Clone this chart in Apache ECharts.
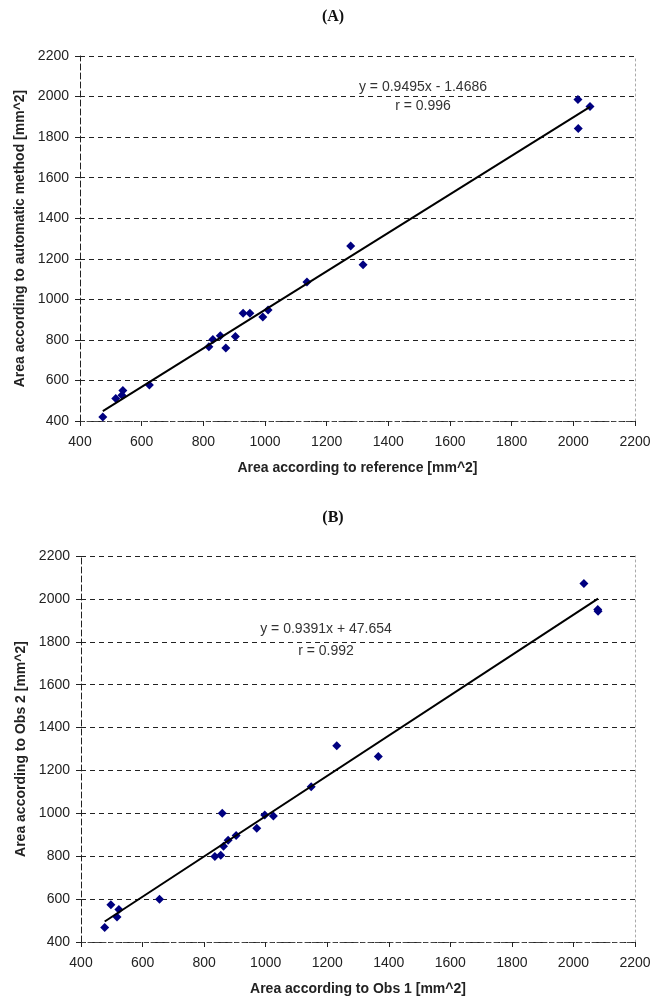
<!DOCTYPE html>
<html>
<head>
<meta charset="utf-8">
<script src="https://cdn.jsdelivr.net/npm/echarts@6/dist/echarts.min.js"></script>
<style>
  html, body { margin: 0; padding: 0; background: #fff; }
  #chart { width: 665px; height: 1000px; }
</style>
</head>
<body>
<div id="chart"></div>
<script>
// (A) reference vs automatic method
const refA = [474, 516, 536, 539, 625, 818, 831, 855, 873, 904, 929, 951, 993, 1010, 1136, 1278, 1318, 2015, 2016, 2054]
const autoA = [420, 511, 527, 550, 578, 766, 802, 820, 760, 817, 931, 931, 913, 947, 1086, 1263, 1171, 1985, 1843, 1951]
const fitA = [0.9495, -1.4686]

// (B) obs 1 vs obs 2
const obs1B = [477, 497, 517, 523, 655, 835, 854, 859, 863, 878, 904, 971, 997, 1025, 1148, 1231, 1366, 2034, 2079, 2080]
const obs2B = [468, 574, 517, 552, 599, 799, 804, 1000, 846, 874, 897, 930, 992, 987, 1124, 1315, 1265, 2072, 1950, 1942]
const fitB = [0.9391, 47.654]

const axisTicks = [400, 600, 800, 1000, 1200, 1400, 1600, 1800, 2000, 2200]

const pts = (xs, ys) => xs.map((x, i) => [x, ys[i]])
const fitLine = (xs, fit) => {
  const lo = Math.min(...xs)
  const hi = Math.max(...xs)
  return [[lo, fit[0] * lo + fit[1]], [hi, fit[0] * hi + fit[1]]]
}

const labelFont = { fontFamily: 'Liberation Sans', fontSize: 14, color: '#222' }
const nameFont = { fontFamily: 'Liberation Sans', fontSize: 14, fontWeight: 'bold', color: '#222' }
const plain = (v) => String(v)

const makeX = (idx, name) => ({
  type: 'value', gridIndex: idx,
  min: axisTicks[0], max: axisTicks[axisTicks.length - 1], interval: 200,
  name, nameLocation: 'middle', nameGap: 40, nameTextStyle: nameFont,
  axisLine: { lineStyle: { color: '#444', type: [4, 3], width: 1 } },
  axisTick: { show: true, length: 5, lineStyle: { color: '#222' } },
  axisLabel: { ...labelFont, margin: 14, formatter: plain },
  splitLine: { show: false }
})
const makeY = (idx, name) => ({
  type: 'value', gridIndex: idx,
  min: axisTicks[0], max: axisTicks[axisTicks.length - 1], interval: 200,
  name, nameLocation: 'middle', nameGap: 51, nameTextStyle: nameFont,
  axisLine: { show: true, lineStyle: { color: '#222', type: [6, 3], width: 1 } },
  axisTick: { show: true, length: 5, lineStyle: { color: '#222' } },
  axisLabel: { ...labelFont, margin: 11, formatter: plain },
  splitLine: { show: true, lineStyle: { color: '#222', type: [5, 4], width: 1 } }
})
const makeRight = (idx) => ({
  type: 'value', gridIndex: idx, position: 'right',
  min: axisTicks[0], max: axisTicks[axisTicks.length - 1], interval: 200,
  axisLine: { show: true, lineStyle: { color: '#aaa', type: [2, 3], width: 1 } },
  axisTick: { show: false }, axisLabel: { show: false }, splitLine: { show: false }
})

const scatter = (idx, data) => ({
  type: 'scatter', xAxisIndex: idx, yAxisIndex: idx * 2, data,
  symbol: 'diamond', symbolSize: 9,
  itemStyle: { color: '#000080', opacity: 1 }, z: 3
})
const trend = (idx, data) => ({
  type: 'line', xAxisIndex: idx, yAxisIndex: idx * 2, data,
  symbol: 'none', lineStyle: { color: '#000', width: 2 }, z: 4
})

const eqText = (x, y, text) => ({
  type: 'text', x, y,
  style: { text, fontFamily: 'Liberation Sans', fontSize: 14, fill: '#333', align: 'center', verticalAlign: 'middle' }
})
const title = (y, text) => ({
  type: 'text', x: 333, y,
  style: { text, fontFamily: 'Liberation Serif', fontSize: 16, fontWeight: 'bold', fill: '#111', align: 'center', verticalAlign: 'middle' }
})

const chart = echarts.init(document.getElementById('chart'))
chart.setOption({
  animation: false,
  backgroundColor: '#fff',
  grid: [
    { left: 80, right: 30, top: 56, height: 365 },
    { left: 81, right: 30, top: 556, height: 386 }
  ],
  xAxis: [
    makeX(0, 'Area according to reference [mm^2]'),
    makeX(1, 'Area according to Obs 1 [mm^2]')
  ],
  yAxis: [
    makeY(0, 'Area according to automatic method [mm^2]'),
    makeRight(0),
    makeY(1, 'Area according to Obs 2 [mm^2]'),
    makeRight(1)
  ],
  series: [
    scatter(0, pts(refA, autoA)),
    trend(0, fitLine(refA, fitA)),
    scatter(1, pts(obs1B, obs2B)),
    trend(1, fitLine(obs1B, fitB))
  ],
  graphic: [
    title(17, '(A)'),
    title(518, '(B)'),
    eqText(423, 87, 'y = 0.9495x - 1.4686'),
    eqText(423, 106, 'r = 0.996'),
    eqText(326, 629, 'y = 0.9391x + 47.654'),
    eqText(326, 651, 'r = 0.992')
  ]
})
</script>
</body>
</html>
